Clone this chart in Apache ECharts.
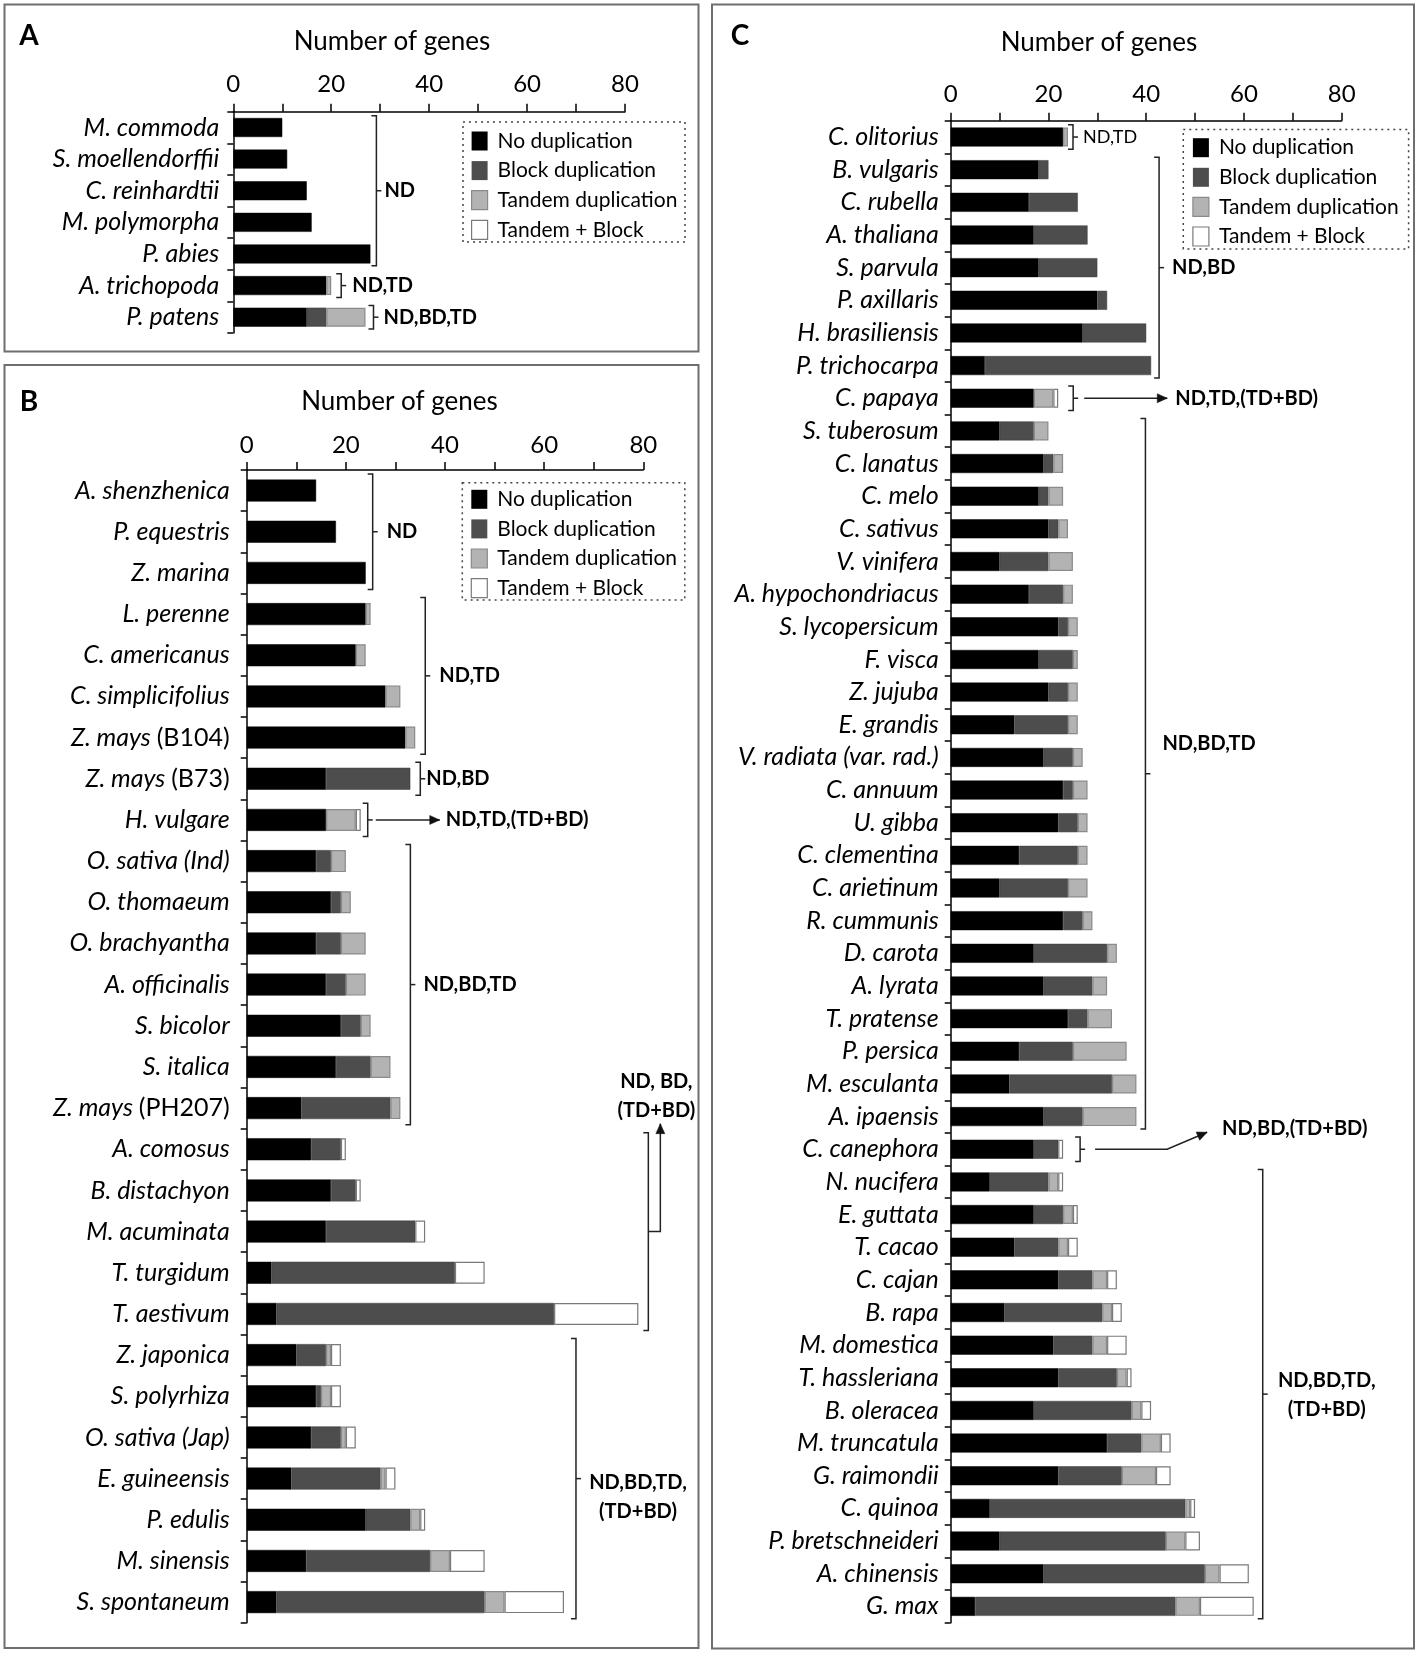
<!DOCTYPE html>
<html><head><meta charset="utf-8">
<script src="https://cdn.jsdelivr.net/npm/echarts@6/dist/echarts.min.js"></script>
<style>html,body{margin:0;padding:0;background:#fff}#c{width:1417px;height:1654px}</style>
</head><body><div id="c"></div>
<script>
// ---------- data ----------
const legendNames = ['No duplication', 'Block duplication', 'Tandem duplication', 'Tandem + Block'];
const tickLabels = [0, 20, 40, 60, 80];
const axisTitle = 'Number of genes';

const catsA = ['M. commoda','S. moellendorffii','C. reinhardtii','M. polymorpha','P. abies','A. trichopoda','P. patens'];
const noDupA    = [10, 11, 15, 16, 28, 19, 15];
const blockA    = [0, 0, 0, 0, 0, 0, 4];
const tandemA   = [0, 0, 0, 0, 0, 1, 8];
const tandBlkA  = [0, 0, 0, 0, 0, 0, 0];

const catsB = ['A. shenzhenica','P. equestris','Z. marina','L. perenne','C. americanus','C. simplicifolius',
  'Z. mays (B104)','Z. mays (B73)','H. vulgare','O. sativa (Ind)','O. thomaeum','O. brachyantha','A. officinalis',
  'S. bicolor','S. italica','Z. mays (PH207)','A. comosus','B. distachyon','M. acuminata','T. turgidum','T. aestivum',
  'Z. japonica','S. polyrhiza','O. sativa (Jap)','E. guineensis','P. edulis','M. sinensis','S. spontaneum'];
const noDupB   = [14,18,24,24,22,28,32,16,16,14,17,14,16,19,18,11,13,17,16,5,6,10,14,13,9,24,12,6];
const blockB   = [0,0,0,0,0,0,0,17,0,3,2,5,4,4,7,18,6,5,18,37,56,6,1,6,18,9,25,42];
const tandemB  = [0,0,0,1,2,3,2,0,6,3,2,5,4,2,4,2,0,0,0,0,0,1,2,1,1,2,4,4];
const tandBlkB = [0,0,0,0,0,0,0,0,1,0,0,0,0,0,0,0,1,1,2,6,17,2,2,2,2,1,7,12];

const catsC = ['C. olitorius','B. vulgaris','C. rubella','A. thaliana','S. parvula','P. axillaris','H. brasiliensis',
  'P. trichocarpa','C. papaya','S. tuberosum','C. lanatus','C. melo','C. sativus','V. vinifera','A. hypochondriacus',
  'S. lycopersicum','F. visca','Z. jujuba','E. grandis','V. radiata (var. rad.)','C. annuum','U. gibba','C. clementina',
  'C. arietinum','R. cummunis','D. carota','A. lyrata','T. pratense','P. persica','M. esculanta','A. ipaensis',
  'C. canephora','N. nucifera','E. guttata','T. cacao','C. cajan','B. rapa','M. domestica','T. hassleriana',
  'B. oleracea','M. truncatula','G. raimondii','C. quinoa','P. bretschneideri','A. chinensis','G. max'];
const noDupC   = [23,18,16,17,18,30,27,7,17,10,19,18,20,10,16,22,18,20,13,19,23,22,14,10,23,17,19,24,14,12,19,
  17,8,17,13,22,11,21,22,17,32,22,8,10,19,5];
const blockC   = [0,2,10,11,12,2,13,34,0,7,2,2,2,10,7,2,7,4,11,6,2,4,12,14,4,15,10,4,11,21,8,
  5,12,6,9,7,20,8,12,20,7,13,40,34,33,41];
const tandemC  = [1,0,0,0,0,0,0,0,4,3,2,3,2,5,2,2,1,2,2,2,3,2,2,4,2,2,3,5,11,5,11,
  0,2,2,2,3,2,3,2,2,4,7,1,4,3,5];
const tandBlkC = [0,0,0,0,0,0,0,0,1,0,0,0,0,0,0,0,0,0,0,0,0,0,0,0,0,0,0,0,0,0,0,
  1,1,1,2,2,2,4,1,2,2,3,1,3,6,11];

// ---------- style / layout ----------
const FONT = 'Lato, "Open Sans", sans-serif';
const FILL = ['#000000', '#4d4d4d', '#b3b3b3', '#ffffff'];
const EDGE = ['#000000', '#3d3d3d', '#8a8a8a', '#7a7a7a'];
const LABEL_SIZE = 25;

const panels = [
  { cats: catsA, vals: [noDupA, blockA, tandemA, tandBlkA],
    grid: { left: 233.3, top: 111.7, width: 391.7, height: 221.3 }, barWidth: 19, labelMargin: 14, tickMargin: 15 },
  { cats: catsB, vals: [noDupB, blockB, tandemB, tandBlkB],
    grid: { left: 246.7, top: 470, width: 396.6, height: 1152.7 }, barWidth: 22, labelMargin: 17, tickMargin: 13 },
  { cats: catsC, vals: [noDupC, blockC, tandemC, tandBlkC],
    grid: { left: 950.7, top: 120.7, width: 391, height: 1502 }, barWidth: 19, labelMargin: 12, tickMargin: 14 }
];

function fmtLabel(name) {
  const m = name.match(/^(Z\. mays) (\(.+\))$/);
  if (m) return '{i|' + m[1] + '} {n|' + m[2] + '}';
  return '{i|' + name + '}';
}

const chart = echarts.init(document.getElementById('c'), null, { renderer: 'canvas', width: 1417, height: 1654 });

const series = [];
panels.forEach((p, g) => {
  p.vals.forEach((arr, k) => {
    series.push({
      type: 'bar', name: legendNames[k], xAxisIndex: g, yAxisIndex: g, stack: 'stack' + g,
      barWidth: p.barWidth, silent: true,
      data: arr.map(v => (v === 0 ? '-' : v)),
      itemStyle: { color: FILL[k], borderColor: EDGE[k], borderWidth: k >= 2 ? 1.2 : 0.5 }
    });
  });
});

const legendPos = [
  { left: 471, top: 130.5 },
  { left: 470.7, top: 488.8 },
  { left: 1192.3, top: 137.2 }
];

chart.setOption({
  animation: false,
  grid: panels.map(p => Object.assign({ containLabel: false }, p.grid)),
  xAxis: panels.map((p, g) => ({
    gridIndex: g, type: 'value', position: 'top', min: 0, max: 80, interval: 10,
    axisLine: { show: true, lineStyle: { color: '#000', width: 1.5 } },
    axisTick: { show: true, length: 8, lineStyle: { color: '#000', width: 1.5 } },
    axisLabel: { formatter: v => (tickLabels.indexOf(v) >= 0 ? String(v) : ''),
      fontFamily: FONT, fontSize: 24, color: '#000', margin: p.tickMargin },
    splitLine: { show: false }
  })),
  yAxis: panels.map((p, g) => ({
    gridIndex: g, type: 'category', data: p.cats, inverse: true,
    axisLine: { show: true, lineStyle: { color: '#000', width: 1.5 } },
    axisTick: { show: true, length: 6, lineStyle: { color: '#000', width: 1.5 } },
    axisLabel: {
      interval: 0, margin: p.labelMargin, formatter: fmtLabel, color: '#000',
      fontFamily: FONT, fontSize: LABEL_SIZE, fontStyle: 'italic',
      rich: {
        i: { fontFamily: FONT, fontSize: LABEL_SIZE, fontStyle: 'italic', color: '#000' },
        n: { fontFamily: FONT, fontSize: LABEL_SIZE, fontStyle: 'normal', color: '#000' }
      }
    }
  })),
  legend: legendPos.map(pos => ({
    orient: 'vertical', left: pos.left, top: pos.top, padding: 0,
    itemWidth: 16, itemHeight: 19, itemGap: 8.6, icon: 'rect', selectedMode: false,
    textStyle: { fontFamily: FONT, fontSize: 21, color: '#000', padding: [0, 0, 0, 5] },
    data: legendNames.map((n, i) => ({ name: n, itemStyle: { color: FILL[i], borderColor: EDGE[i], borderWidth: i >= 2 ? 1.2 : 0 } }))
  })),
  series
});

// ---------- annotations (brackets, arrows, texts) ----------
const G = [];
function line(points, w, color) {
  G.push({ type: 'polyline', silent: true, z: 50, shape: { points },
    style: { stroke: color || '#222', lineWidth: w || 1.5, fill: null } });
}
function poly(points) {
  G.push({ type: 'polygon', silent: true, z: 50, shape: { points }, style: { fill: '#111', stroke: '#111', lineWidth: 0.5 } });
}
function text(x, y, str, font, align) {
  G.push({ type: 'text', silent: true, z: 50, x, y,
    style: { text: str, font, fill: '#000', textAlign: align || 'left', textVerticalAlign: 'middle',
      align: align || 'left', verticalAlign: 'middle' } });
}
function arrowHead(x2, y2, x1, y1) {
  const a = Math.atan2(y2 - y1, x2 - x1), L = 10, W = 4.5;
  const bx = x2 - L * Math.cos(a), by = y2 - L * Math.sin(a);
  poly([[x2, y2], [bx + W * Math.sin(a), by - W * Math.cos(a)], [bx - W * Math.sin(a), by + W * Math.cos(a)]]);
}
function total(g, i) { return panels[g].vals.reduce((s, arr) => s + arr[i], 0); }
function pix(g, v, idx) { return chart.convertToPixel({ gridIndex: g }, [v, idx]); }

function bracket(g, from, to, dx, noTick) {
  let maxT = 0;
  for (let i = from; i <= to; i++) maxT = Math.max(maxT, total(g, i));
  const bx = pix(g, maxT, from)[0] + dx;
  const rowH = Math.abs(pix(g, 0, 1)[1] - pix(g, 0, 0)[1]);
  const ext = rowH / 2 - 4;
  const top = pix(g, 0, from)[1] - ext, bot = pix(g, 0, to)[1] + ext, mid = (top + bot) / 2;
  line([[bx - 5, top], [bx, top], [bx, bot], [bx - 5, bot]]);
  if (!noTick) line([[bx, mid], [bx + 5, mid]]);
  return { bx, top, bot, mid };
}

const BOLD = 'bold 20px ' + FONT;
const notes = [
  { g: 0, from: 0, to: 4, dx: 6, label: 'ND', tx: 8 },
  { g: 0, from: 5, to: 5, dx: 10, label: 'ND,TD', tx: 11 },
  { g: 0, from: 6, to: 6, dx: 8, label: 'ND,BD,TD', tx: 10 },
  { g: 1, from: 0, to: 2, dx: 7, label: 'ND', tx: 14 },
  { g: 1, from: 3, to: 6, dx: 10, label: 'ND,TD', tx: 14 },
  { g: 1, from: 7, to: 7, dx: 10, label: 'ND,BD', tx: 6 },
  { g: 1, from: 8, to: 8, dx: 7, label: 'ND,TD,(TD+BD)', arrow: [8, 72], tx: 78 },
  { g: 1, from: 9, to: 15, dx: 10, label: 'ND,BD,TD', tx: 13 },
  { g: 1, from: 16, to: 20, dx: 10, kind: 'up', lines: ['ND, BD,', '(TD+BD)'] },
  { g: 1, from: 21, to: 27, dx: 12, lines: ['ND,BD,TD,', '(TD+BD)'], cx: 62, ly: [4, 33] },
  { g: 2, from: 0, to: 0, dx: 5, label: 'ND,TD', tx: 10, font: '18px ' + FONT },
  { g: 2, from: 1, to: 7, dx: 8, label: 'ND,BD', tx: 13 },
  { g: 2, from: 8, to: 8, dx: 15, label: 'ND,TD,(TD+BD)', arrow: [11, 94], tx: 102 },
  { g: 2, from: 9, to: 30, dx: 9, label: 'ND,BD,TD', tx: 17, ty: -30 },
  { g: 2, from: 31, to: 31, dx: 17, kind: 'bent', label: 'ND,BD,(TD+BD)' },
  { g: 2, from: 32, to: 45, dx: 9, lines: ['ND,BD,TD,', '(TD+BD)'], cx: 64, ly: [-14, 15] }
];

notes.forEach(n => {
  if (n.kind === 'up') {
    const b = bracket(n.g, n.from, n.to, n.dx, true);
    const ax = b.bx + 12, yEnd = b.top - 9;
    line([[b.bx, b.mid], [ax, b.mid], [ax, yEnd]]);
    arrowHead(ax, yEnd, ax, yEnd + 20);
    text(b.bx + 8, b.top - 51, n.lines[0], BOLD, 'center');
    text(b.bx + 8, b.top - 22, n.lines[1], BOLD, 'center');
    return;
  }
  const b = bracket(n.g, n.from, n.to, n.dx);
  if (n.kind === 'bent') {
    const y = b.mid;
    line([[b.bx + 15, y], [b.bx + 87, y], [b.bx + 127, y - 17]]);
    arrowHead(b.bx + 127, y - 17, b.bx + 87, y);
    text(b.bx + 142, y - 21, n.label, BOLD);
    return;
  }
  if (n.arrow) {
    line([[b.bx + n.arrow[0], b.mid], [b.bx + n.arrow[1], b.mid]]);
    arrowHead(b.bx + n.arrow[1], b.mid, b.bx + n.arrow[0], b.mid);
  }
  if (n.lines) {
    text(b.bx + n.cx, b.mid + n.ly[0], n.lines[0], BOLD, 'center');
    text(b.bx + n.cx, b.mid + n.ly[1], n.lines[1], BOLD, 'center');
  } else {
    text(b.bx + n.tx, b.mid + (n.ty || 0), n.label, n.font || BOLD);
  }
});

// panel frames
[[4.5, 4.5, 694, 347], [4.5, 365, 694, 1283], [712, 4.5, 702, 1644]].forEach(r => {
  G.push({ type: 'rect', silent: true, z: 1, shape: { x: r[0], y: r[1], width: r[2], height: r[3] },
    style: { fill: null, stroke: '#6e6e6e', lineWidth: 2 } });
});
// dotted legend boxes
[[463, 122, 222, 120], [462.3, 482.7, 222.5, 117.3], [1183.3, 129.5, 225.3, 119.5]].forEach(r => {
  G.push({ type: 'rect', silent: true, z: 1, shape: { x: r[0], y: r[1], width: r[2], height: r[3] },
    style: { fill: null, stroke: '#444', lineWidth: 1.5, lineDash: [2, 4] } });
});
// panel letters and axis titles
text(29, 36, 'A', 'bold 28px ' + FONT, 'center');
text(29, 402, 'B', 'bold 28px ' + FONT, 'center');
text(740, 36, 'C', 'bold 28px ' + FONT, 'center');
text(392, 42, axisTitle, '26px ' + FONT, 'center');
text(399.5, 402, axisTitle, '26px ' + FONT, 'center');
text(1099, 43, axisTitle, '26px ' + FONT, 'center');

chart.setOption({ graphic: { elements: G } });
</script>
</body></html>
